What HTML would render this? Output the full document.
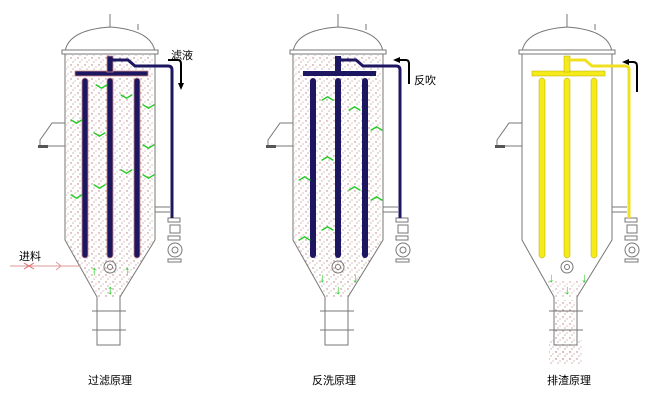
<!DOCTYPE html>
<html><head><meta charset="utf-8"><style>body{margin:0;background:#fff}svg{display:block}text{font-family:"Liberation Sans","Noto Sans CJK SC",sans-serif}</style></head><body>
<svg width="659" height="400" viewBox="0 0 659 400" xmlns="http://www.w3.org/2000/svg">
<defs>
<pattern id="dots" width="7" height="7" patternUnits="userSpaceOnUse">
<circle cx="1" cy="2" r="0.7" fill="#b77"/><circle cx="5" cy="4" r="0.6" fill="#c99"/><circle cx="3" cy="6" r="0.6" fill="#a88"/>
</pattern>
<g id="shell" fill="none" stroke="#777" stroke-width="1">
<path d="M65,52 Q68,30 110,27 Q152,30 155,52"/>
<line x1="110" y1="27" x2="110" y2="14"/><line x1="138" y1="30" x2="138" y2="24"/>
<rect x="62" y="50" width="96" height="4" fill="#fff"/>
<path d="M65,54 V240 L97,297 V345 H120 V297 L155,240 V54"/>
<line x1="92" y1="311" x2="126" y2="311"/><line x1="92" y1="330" x2="126" y2="330"/>
<path d="M65,123 H52 L40,140 V146 H65"/>
<rect x="38" y="145" width="10" height="3" fill="#555" stroke="none"/>
<line x1="155" y1="207" x2="170" y2="207"/><line x1="155" y1="212" x2="170" y2="212"/>
<rect x="168" y="218" width="12" height="4"/><path d="M170,225 h10 v8 h-10z"/><rect x="168" y="236" width="12" height="4"/>
<circle cx="175" cy="250" r="7"/><circle cx="175" cy="250" r="3"/><rect x="168" y="259" width="13" height="3"/>
<circle cx="110" cy="267" r="6"/><circle cx="110" cy="267" r="2.5"/>
</g>
<g id="tubes">
<rect x="75" y="71" width="73" height="5"/>
<rect x="82" y="78" width="6" height="180" rx="3"/><rect x="107" y="78" width="6" height="180" rx="3"/><rect x="134" y="78" width="6" height="180" rx="3"/>
<rect x="107" y="56" width="6" height="16"/>
</g>
</defs>
<!-- vessel 1 -->
<path d="M66,55 V240 L97,297 H120 L154,240 V55Z" fill="url(#dots)"/>
<use href="#shell"/>
<g fill="#1d1660" stroke="#c88" stroke-width="0.8"><use href="#tubes"/></g>
<path d="M110,60 H128 L135,66 H168 Q172,66 172,70 V218" fill="none" stroke="#1d1660" stroke-width="3"/>
<path d="M168,60 H178 Q181,60 181,64 V84" fill="none" stroke="#000" stroke-width="2"/><path d="M178,83 L181,90 L184,83Z"/>
<text x="171" y="59" font-size="11">滤液</text>
<line x1="10" y1="266" x2="80" y2="266" stroke="#d99"/><path d="M56,262 L61,266 L56,270" stroke="#d99" fill="none"/>
<path d="M24,263 L34,269 M24,269 L34,263" stroke="#d66"/>
<text x="19" y="260" font-size="11">进料</text>
<g fill="#2c2" font-size="13" font-weight="bold"><text x="91" y="275">↑</text><text x="124" y="275">↑</text><text x="107" y="294">↕</text>
<text x="95" y="95">﹀</text><text x="120" y="105">﹀</text><text x="70" y="130">﹀</text><text x="142" y="115">﹀</text><text x="93" y="143">﹀</text><text x="142" y="155">﹀</text><text x="120" y="180">﹀</text><text x="93" y="195">﹀</text><text x="142" y="185">﹀</text><text x="70" y="205">﹀</text></g>
<!-- vessel 2 -->
<g transform="translate(228,0)">
<path d="M66,55 V240 L97,297 H120 L154,240 V55Z" fill="url(#dots)"/>
<use href="#shell"/>
<g fill="#1d1660"><use href="#tubes"/></g>
<path d="M110,60 H128 L135,66 H168 Q172,66 172,70 V218" fill="none" stroke="#1d1660" stroke-width="3"/>
<path d="M181,84 V64 Q181,60 178,60 H170" fill="none" stroke="#000" stroke-width="2"/><path d="M172,57 L165,60 L172,63Z"/>
<text x="186" y="84" font-size="11">反吹</text>
<g fill="#2c2" font-size="13" font-weight="bold"><text x="91" y="282">↓</text><text x="124" y="282">↓</text><text x="107" y="294">↓</text>
<text x="93" y="100">︿</text><text x="120" y="110">︿</text><text x="70" y="180">︿</text><text x="142" y="130">︿</text><text x="93" y="160">︿</text><text x="142" y="200">︿</text><text x="120" y="190">︿</text><text x="93" y="230">︿</text><text x="70" y="240">︿</text></g>
</g>
<!-- vessel 3 -->
<g transform="translate(457,0)">
<rect x="98" y="300" width="21" height="62" fill="url(#dots)"/>
<path d="M92,340 H126 V364 H92Z" fill="url(#dots)"/>
<path d="M88,280 L97,297 H120 L129,280Z" fill="url(#dots)" opacity="0.8"/>
<use href="#shell"/>
<g fill="#f5ea1a" stroke="#bba800" stroke-width="0.5"><use href="#tubes"/></g>
<path d="M110,60 H128 L135,66 H168 Q172,66 172,70 V218" fill="none" stroke="#f0e020" stroke-width="3"/>
<path d="M170,62 H176 Q180,62 180,66 V92" fill="none" stroke="#000" stroke-width="2"/><path d="M172,59 L165,62 L172,65Z"/>
<g fill="#2c2" font-size="13" font-weight="bold"><text x="91" y="282">↓</text><text x="124" y="282">↓</text><text x="107" y="294">↓</text></g>
</g>
<text x="88" y="384" font-size="11">过滤原理</text>
<text x="312" y="384" font-size="11">反洗原理</text>
<text x="547" y="384" font-size="11">排渣原理</text>
</svg>
</body></html>
